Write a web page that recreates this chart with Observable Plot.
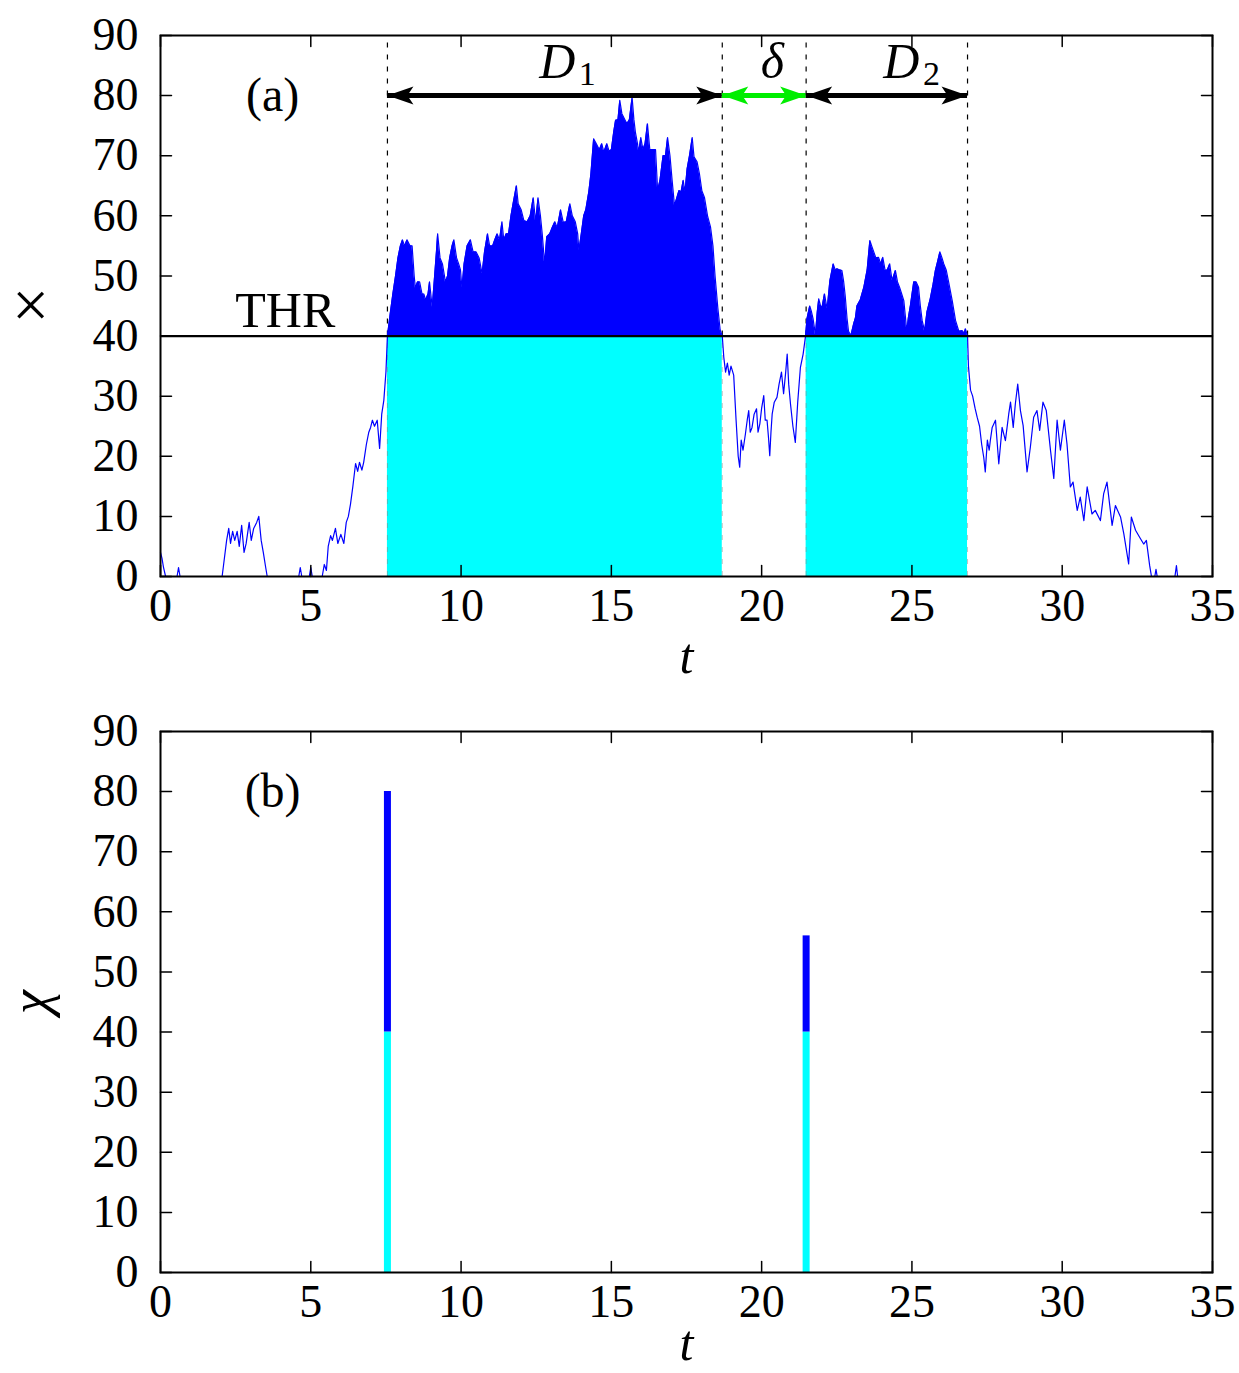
<!DOCTYPE html>
<html><head><meta charset="utf-8">
<script src="https://cdn.jsdelivr.net/npm/d3@7"></script>
<script src="https://cdn.jsdelivr.net/npm/@observablehq/plot@0.6"></script>
<style>body{margin:0;background:#fff} svg{display:block}</style>
</head><body><div id="chart"></div>
<script>
// ---- data (t, X) ----
const seriesBefore = [[0,4],[0.05,3],[0.1,1.5],[0.17,0],[0.55,0],[0.6,1.5],[0.65,0],[2.05,0],[2.1,2],[2.2,6],[2.27,8],[2.33,5.5],[2.4,7.5],[2.47,6],[2.55,7.5],[2.62,5],[2.7,8.5],[2.78,4],[2.85,5.5],[2.95,9],[3.02,6],[3.1,8],[3.2,9],[3.27,10],[3.35,6],[3.42,4],[3.5,1.5],[3.55,0],[4.6,0],[4.65,1.5],[4.7,0],[4.95,0],[5.0,1.5],[5.05,0],[5.38,0],[5.45,2],[5.52,1],[5.58,5],[5.66,6.8],[5.72,6],[5.82,8],[5.9,5.5],[6.0,7],[6.1,5.5],[6.18,9],[6.25,10],[6.32,12],[6.4,15],[6.49,18.8],[6.56,17.5],[6.62,19],[6.7,17.7],[6.76,19],[6.85,22],[6.93,24],[6.99,24.8],[7.05,26],[7.12,25],[7.21,26],[7.29,21.3],[7.36,27],[7.43,29.3],[7.5,34],[7.55,40]];
const seriesEvent1 = [[7.6,42],[7.65,44],[7.73,47],[7.82,50],[7.9,53],[7.98,55],[8.05,56],[8.12,55],[8.2,56],[8.3,55],[8.37,55],[8.44,50],[8.48,48],[8.55,49],[8.62,49],[8.7,47],[8.76,47],[8.82,46],[8.9,47],[8.95,49],[9.04,44.8],[9.12,50],[9.18,54],[9.22,57],[9.3,53],[9.38,52],[9.48,49],[9.55,50],[9.62,53],[9.7,55],[9.76,56],[9.85,53],[9.92,52],[9.98,51],[10.03,48],[10.1,52],[10.2,55],[10.31,56],[10.4,54],[10.5,54],[10.6,53],[10.7,50.4],[10.78,54],[10.88,57],[10.95,55],[11.05,55],[11.12,56],[11.2,57],[11.28,56],[11.36,59],[11.42,56],[11.5,57],[11.58,57],[11.66,60],[11.73,62],[11.84,65],[11.9,62],[12.0,61],[12.09,59.2],[12.2,59],[12.3,60],[12.4,63],[12.48,59],[12.56,63],[12.64,60],[12.7,57],[12.78,52],[12.85,56.5],[12.95,57],[13.03,58],[13.12,59],[13.2,58],[13.31,61],[13.4,58.9],[13.5,59],[13.62,62],[13.7,60],[13.8,59],[13.88,57],[13.92,54.2],[14.0,57],[14.08,60],[14.15,61],[14.25,64],[14.32,67],[14.41,72.8],[14.5,72],[14.6,71],[14.68,72],[14.75,70.6],[14.85,72],[14.92,70.8],[15.0,71],[15.08,74],[15.14,75.9],[15.22,76],[15.28,79.2],[15.35,77],[15.45,76],[15.52,75.3],[15.6,76],[15.69,79.7],[15.75,76],[15.8,73.9],[15.87,72],[15.91,70.6],[15.98,73],[16.05,71],[16.12,72],[16.2,75.3],[16.28,71],[16.38,71],[16.47,71],[16.54,64.2],[16.62,66],[16.72,70],[16.8,70],[16.87,73],[16.95,70],[17.02,66],[17.1,61.7],[17.18,63],[17.25,64.2],[17.32,64],[17.39,65.9],[17.45,64],[17.52,67.8],[17.6,70],[17.69,73],[17.75,69.8],[17.85,69],[17.93,67],[18.01,64.2],[18.1,63],[18.2,60],[18.3,58.1],[18.38,55],[18.45,50],[18.54,44.8],[18.62,41],[18.69,40]];
const seriesGap = [[18.74,36.5],[18.8,34],[18.86,35.5],[18.92,33.5],[18.98,35],[19.07,33.5],[19.15,26],[19.22,20],[19.27,18.2],[19.32,22.7],[19.38,21],[19.46,23.7],[19.52,26],[19.57,27.6],[19.62,24],[19.68,24.8],[19.75,27],[19.83,27.9],[19.88,24],[19.94,25.4],[20.0,28],[20.07,30.1],[20.12,26],[20.18,26],[20.23,23],[20.27,20.1],[20.31,24],[20.35,27],[20.42,29],[20.51,29.8],[20.58,32],[20.66,34],[20.73,30.4],[20.8,34],[20.85,37],[20.9,32],[20.96,28.7],[21.04,25],[21.12,22.3],[21.2,29],[21.29,34.8],[21.38,37],[21.46,40]];
const seriesEvent2 = [[21.51,42.9],[21.6,45],[21.66,44],[21.71,42.9],[21.79,40.2],[21.85,44],[21.9,46.2],[21.96,45],[22.01,44.8],[22.09,47],[22.18,44.5],[22.27,49.2],[22.38,52],[22.45,51],[22.51,51.2],[22.6,51],[22.67,50.9],[22.73,49],[22.78,46.7],[22.84,43],[22.89,40.8],[22.97,40.1],[23.06,42],[23.12,43],[23.17,45],[23.28,46],[23.4,48.1],[23.51,51],[23.6,55.9],[23.66,55],[23.73,54],[23.8,53],[23.89,53.1],[23.96,52],[24.03,53.1],[24.11,50.9],[24.18,51],[24.26,52],[24.34,49.2],[24.45,50.9],[24.52,49],[24.59,48.1],[24.66,47],[24.73,45.9],[24.83,40.8],[24.88,43],[24.95,45.1],[25.06,49],[25.14,49],[25.22,48.1],[25.28,45],[25.34,42.6],[25.42,40.8],[25.5,44],[25.61,46.2],[25.7,48.5],[25.78,50.9],[25.86,52.5],[25.93,54],[26.0,53],[26.06,52],[26.14,51],[26.22,49],[26.34,45.9],[26.45,42.6],[26.56,40.8],[26.67,40.9],[26.74,40.5],[26.78,41.2],[26.85,40]];
const seriesAfter = [[26.88,35],[26.95,31],[27.02,30],[27.1,28],[27.17,26.5],[27.25,25],[27.32,22],[27.39,19.8],[27.44,17.4],[27.51,22.7],[27.57,21],[27.61,22.7],[27.67,24.8],[27.78,26],[27.89,18.75],[28.0,24.8],[28.11,22.6],[28.22,27],[28.28,29],[28.37,24.8],[28.44,28.7],[28.52,32],[28.61,27.6],[28.7,25.1],[28.83,17.4],[28.94,21.5],[29.05,26.5],[29.16,27.6],[29.25,24.3],[29.36,29],[29.47,27.6],[29.61,21],[29.72,16.3],[29.83,26],[29.94,21],[30.07,26],[30.16,22],[30.27,14.9],[30.36,15.7],[30.5,11],[30.6,13.2],[30.72,9.3],[30.83,14.9],[30.99,10.4],[31.1,11],[31.27,9.3],[31.38,13.8],[31.49,15.7],[31.66,8.5],[31.77,11.8],[31.94,9.9],[32.05,7.1],[32.21,2.1],[32.3,9.9],[32.44,7.7],[32.58,6.5],[32.71,5.4],[32.8,6],[32.91,1.8],[32.97,0],[33.08,0],[33.12,1.2],[33.16,0],[33.75,0],[33.8,1.8],[33.84,0]];

const threshold = 40;
const eventStarts = [7.55, 21.48];
const eventEnds = [18.69, 26.85];
const eventMaxima = [80, 56];
const xTicks = [0, 5, 10, 15, 20, 25, 30, 35];
const yTicks = [0, 10, 20, 30, 40, 50, 60, 70, 80, 90];
const arrowLevel = 80;
const durationLabels = ["D", "δ", "D"];
const durationSubs = ["1", "", "2"];
const durationLabelT = [13.2, 20.36, 24.65];
const panelNames = ["(a)", "(b)"];
const panelLabelT = 3.73;
const thrLabel = "THR";
const thrLabelT = 4.15;

// ---- derived tables ----
const series = [...seriesBefore, ...seriesEvent1, ...seriesGap, ...seriesEvent2, ...seriesAfter]
  .map(([t, v]) => ({t, v}));
const events = eventStarts.map((s, i) => ({start: s, end: eventEnds[i], max: eventMaxima[i]}));
const boundaries = [...eventStarts, ...eventEnds].sort((a, b) => a - b);
const arrowSegs = [
  {x1: eventStarts[0], x2: eventEnds[0], color: "black"},
  {x1: eventEnds[0], x2: eventStarts[1], color: "#00ee00"},
  {x1: eventStarts[1], x2: eventEnds[1], color: "black"}
];
const arrowHeads = arrowSegs.flatMap(s => [
  {x: s.x2, rot: 0, color: s.color},
  {x: s.x1, rot: 180, color: s.color}
]);
const durLabels = durationLabels.map((d, i) => ({t: durationLabelT[i], text: d, sub: durationSubs[i]}));

const FONT = "Liberation Serif, Times New Roman, serif";
const FS = 46;
const headShape = {draw(ctx) { ctx.moveTo(0, 0); ctx.lineTo(-26, -9); ctx.lineTo(-20, 0); ctx.lineTo(-26, 9); ctx.closePath(); }};
const tickShape = {draw(ctx, l) { ctx.moveTo(0, 0); ctx.lineTo(0, -l); }};

function frameMarks(labelDy) {
  const tk = {stroke: "black", strokeWidth: 1.5, length: 11, anchor: "start", shape: tickShape};
  return [
    Plot.vector(xTicks, {x: d => d, frameAnchor: "bottom", rotate: 0, ...tk}),
    Plot.vector(xTicks, {x: d => d, frameAnchor: "top", rotate: 180, ...tk}),
    Plot.vector(yTicks, {y: d => d, frameAnchor: "left", rotate: 90, ...tk}),
    Plot.vector(yTicks, {y: d => d, frameAnchor: "right", rotate: -90, ...tk}),
    Plot.frame({stroke: "black", strokeWidth: 2}),
    Plot.axisX({ticks: xTicks, tickSize: 0, tickPadding: 12, label: null, fontSize: FS, tickFormat: d => String(d)}),
    Plot.axisY({ticks: yTicks, tickSize: 0, tickPadding: 22, label: null, fontSize: FS, tickFormat: d => String(d)}),
    Plot.text(["t"], {text: d => d, frameAnchor: "bottom", dy: labelDy, fontSize: FS + 4, fontStyle: "italic"})
  ];
}

const common = {
  width: 1239, marginLeft: 160, marginRight: 27,
  x: {domain: [0, 35], axis: null},
  y: {domain: [0, 90], axis: null},
  style: {fontFamily: FONT, fontSize: FS + "px", color: "black", background: "white"}
};

const plotA = Plot.plot({
  ...common, height: 690, marginTop: 35, marginBottom: 114,
  marks: [
    Plot.rect(events, {x1: "start", x2: "end", y1: 0, y2: threshold, fill: "#00ffff"}),
    Plot.ruleX(boundaries, {x: d => d, y1: 0, y2: threshold, stroke: "#888", strokeOpacity: 0.5, strokeDasharray: "5,7"}),
    Plot.ruleX(boundaries, {x: d => d, y1: threshold, y2: 90, stroke: "black", strokeWidth: 1.2, strokeDasharray: "5,7"}),
    Plot.areaY(series, {x: "t", y1: threshold, y2: d => Math.max(d.v, threshold), fill: "#0000ff"}),
    Plot.line(series, {x: "t", y: "v", stroke: "#0000ff", strokeWidth: 1.2}),
    Plot.ruleY([threshold], {stroke: "black", strokeWidth: 2.2}),
    Plot.ruleY(arrowSegs, {x1: "x1", x2: "x2", y: arrowLevel, stroke: "color", strokeWidth: 5}),
    Plot.dot(arrowHeads, {x: "x", y: arrowLevel, rotate: "rot", fill: "color", stroke: null, symbol: headShape, r: 6}),
    Plot.text(durLabels, {x: "t", y: arrowLevel, text: "text", dy: -34, fontSize: 50, fontStyle: "italic"}),
    Plot.text(durLabels, {x: "t", y: arrowLevel, text: "sub", dx: 30, dy: -22, fontSize: 34}),
    Plot.text([thrLabel], {x: thrLabelT, y: threshold, text: d => d, dy: -25, fontSize: 50}),
    Plot.text([panelNames[0]], {x: panelLabelT, y: arrowLevel, text: d => d, fontSize: 48}),
    Plot.text(["×"], {text: d => d, frameAnchor: "left", textAnchor: "middle", dx: -130, fontSize: 66}),
    ...frameMarks(96)
  ]
});

const plotB = Plot.plot({
  ...common, height: 683, marginTop: 41, marginBottom: 101,
  marks: [
    Plot.ruleX(events, {x: "start", y1: 0, y2: threshold, stroke: "#00ffff", strokeWidth: 7}),
    Plot.ruleX(events, {x: "start", y1: threshold, y2: "max", stroke: "#0000ff", strokeWidth: 7}),
    Plot.text([panelNames[1]], {x: panelLabelT, y: arrowLevel, text: d => d, fontSize: 48}),
    Plot.text(["χ"], {text: d => d, frameAnchor: "left", textAnchor: "middle", dx: -130, rotate: -90, fontSize: 54, fontStyle: "italic"}),
    ...frameMarks(87)
  ]
});

const root = document.getElementById("chart");
root.appendChild(plotA);
root.appendChild(plotB);
</script>
</body></html>
